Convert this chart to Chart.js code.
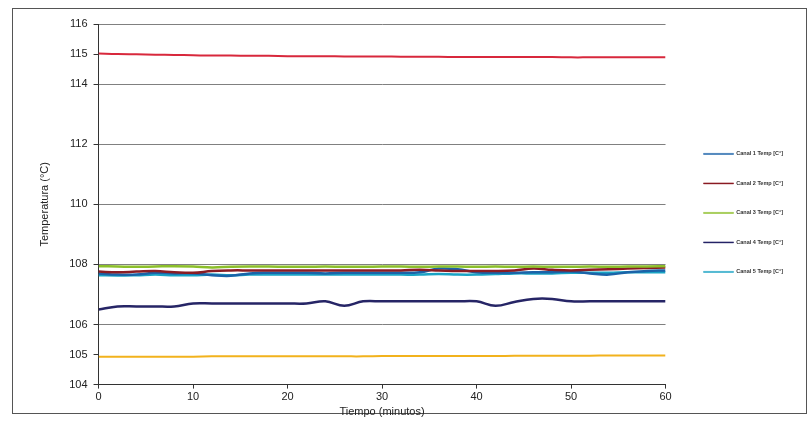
<!DOCTYPE html>
<html lang="es">
<head>
    <meta charset="UTF-8">
    <title>Temperatura por canal</title>
    <script src="https://cdn.jsdelivr.net/npm/chart.js"></script>
    <style>
        html, body { margin: 0; padding: 0; background: #fff; }
        .chart-box { position: relative; width: 809px; height: 421px; }
    </style>
</head>
<body>
    <div class="chart-box">
        <canvas id="graficoTemp"></canvas>
    </div>

    <script>
        // tiempo en minutos
        const tiempo = [0, 2, 4, 6, 8, 10, 12, 14, 16, 18, 20, 22, 24, 26, 28, 30,
                        32, 34, 36, 38, 40, 42, 44, 46, 48, 50, 52, 54, 56, 58, 60];

        const canal1 = [107.70, 107.66, 107.66, 107.72, 107.70, 107.70, 107.64, 107.62, 107.70, 107.72, 107.72, 107.72, 107.70, 107.72, 107.72, 107.72,
                        107.72, 107.74, 107.86, 107.84, 107.74, 107.72, 107.72, 107.74, 107.74, 107.76, 107.70, 107.66, 107.74, 107.78, 107.80];
        const canal2 = [107.76, 107.74, 107.76, 107.78, 107.74, 107.72, 107.78, 107.80, 107.80, 107.80, 107.80, 107.80, 107.80, 107.80, 107.80, 107.80,
                        107.80, 107.82, 107.80, 107.78, 107.78, 107.78, 107.80, 107.86, 107.82, 107.80, 107.82, 107.84, 107.86, 107.88, 107.90];
        const canal3 = [107.94, 107.93, 107.92, 107.93, 107.94, 107.93, 107.90, 107.92, 107.93, 107.93, 107.92, 107.92, 107.93, 107.92, 107.92, 107.93,
                        107.93, 107.92, 107.93, 107.93, 107.92, 107.93, 107.92, 107.93, 107.92, 107.92, 107.93, 107.92, 107.93, 107.93, 107.94];
        const canal4 = [106.50, 106.60, 106.60, 106.60, 106.60, 106.70, 106.70, 106.70, 106.70, 106.70, 106.70, 106.70, 106.77, 106.62, 106.77, 106.77,
                        106.77, 106.77, 106.77, 106.77, 106.77, 106.62, 106.75, 106.85, 106.85, 106.77, 106.77, 106.77, 106.77, 106.77, 106.77];
        const canal5 = [107.64, 107.63, 107.64, 107.66, 107.64, 107.64, 107.66, 107.64, 107.66, 107.66, 107.66, 107.66, 107.66, 107.66, 107.66, 107.66,
                        107.66, 107.66, 107.68, 107.66, 107.66, 107.68, 107.70, 107.70, 107.70, 107.72, 107.72, 107.72, 107.74, 107.74, 107.74];

        // lineas limite (no aparecen en la leyenda)
        const limiteSup = [115.02, 115.0, 114.99, 114.98, 114.97, 114.96, 114.95, 114.95, 114.94, 114.94, 114.93, 114.93, 114.93, 114.92, 114.92, 114.92,
                           114.91, 114.91, 114.91, 114.90, 114.90, 114.90, 114.90, 114.90, 114.90, 114.89, 114.89, 114.89, 114.89, 114.89, 114.89];
        const limiteInf = [104.93, 104.93, 104.93, 104.93, 104.93, 104.93, 104.94, 104.94, 104.94, 104.94, 104.94, 104.94, 104.94, 104.94, 104.94, 104.95,
                           104.95, 104.95, 104.95, 104.95, 104.95, 104.95, 104.96, 104.96, 104.96, 104.96, 104.96, 104.97, 104.97, 104.97, 104.97];

        const ticksY = [104, 105, 106, 108, 110, 112, 114, 115, 116];
        const ticksX = [0, 10, 20, 30, 40, 50, 60];

        function serie(valores) {
            return tiempo.map((t, i) => ({ x: t, y: valores[i] }));
        }

        function linea(nombre, valores, color, ancho) {
            return {
                label: nombre,
                data: serie(valores),
                borderColor: color,
                backgroundColor: color,
                borderWidth: ancho,
                pointRadius: 0,
                tension: 0.4,
                fill: false
            };
        }

        const marco = {
            id: 'marco',
            beforeDraw(chart) {
                const c = chart.ctx;
                c.save();
                c.fillStyle = '#fff';
                c.fillRect(0, 0, chart.width, chart.height);
                c.strokeStyle = '#555';
                c.lineWidth = 1;
                c.strokeRect(12.5, 8.5, 794, 405);
                c.restore();
            }
        };

        const ctx = document.getElementById('graficoTemp').getContext('2d');
        new Chart(ctx, {
            type: 'line',
            data: {
                datasets: [
                    linea('Limite sup', limiteSup, '#d8283c', 2),
                    linea('Limite inf', limiteInf, '#f2b21c', 2),
                    linea('Canal 3 Temp [C°]', canal3, '#8cbf2a', 2.5),
                    linea('Canal 2 Temp [C°]', canal2, '#8a1c24', 2.5),
                    linea('Canal 1 Temp [C°]', canal1, '#1b63a8', 2.5),
                    linea('Canal 5 Temp [C°]', canal5, '#1aa3c4', 2.5),
                    linea('Canal 4 Temp [C°]', canal4, '#262566', 2.5)
                ]
            },
            options: {
                responsive: true,
                maintainAspectRatio: false,
                animation: false,
                layout: { padding: { left: 38, top: 24, right: 16, bottom: 2 } },
                scales: {
                    x: {
                        type: 'linear',
                        min: 0,
                        max: 60,
                        afterBuildTicks: axis => { axis.ticks = ticksX.map(v => ({ value: v })); },
                        grid: { display: true, drawOnChartArea: false, color: '#333', tickLength: 4 },
                        border: { color: '#333', width: 1 },
                        ticks: { color: '#222', font: { family: 'Liberation Sans', size: 11 }, padding: 2, maxRotation: 0 },
                        title: {
                            display: true,
                            text: 'Tiempo (minutos)',
                            color: '#222',
                            font: { family: 'Liberation Sans', size: 11 },
                            padding: { top: 0, bottom: 0 }
                        }
                    },
                    y: {
                        min: 104,
                        max: 116,
                        afterBuildTicks: axis => { axis.ticks = ticksY.map(v => ({ value: v })); },
                        grid: {
                            color: c => (c.tick && (c.tick.value === 105 || c.tick.value === 115)) ? 'rgba(0,0,0,0)' : '#808080',
                            tickColor: '#333',
                            tickLength: 5
                        },
                        border: { color: '#333', width: 1 },
                        ticks: { color: '#222', font: { family: 'Liberation Sans', size: 11 }, padding: 6 },
                        title: {
                            display: true,
                            text: 'Temperatura (°C)',
                            color: '#222',
                            font: { family: 'Liberation Sans', size: 11 },
                            padding: { top: 0, bottom: 12 }
                        }
                    },
                    // espacio vacio entre el grafico y la leyenda
                    hueco: {
                        type: 'linear',
                        position: 'right',
                        min: 0,
                        max: 1,
                        grid: { drawOnChartArea: false, drawTicks: false },
                        border: { display: false },
                        ticks: { display: false },
                        afterFit: s => { s.width = 14; }
                    }
                },
                plugins: {
                    tooltip: { enabled: false },
                    legend: {
                        position: 'right',
                        align: 'center',
                        fullSize: false,
                        title: { display: true, text: ' ', font: { size: 1 }, padding: 8 },
                        labels: {
                            generateLabels: chart => Chart.defaults.plugins.legend.labels.generateLabels(chart)
                                .map(l => Object.assign(l, { lineWidth: 0.5 })),
                            filter: item => item.text.indexOf('Canal') === 0,
                            sort: (a, b) => a.text.localeCompare(b.text),
                            color: '#333',
                            font: { family: 'Liberation Sans', size: 5.5, weight: 'bold' },
                            boxWidth: 30,
                            boxHeight: 1,
                            padding: 24
                        }
                    }
                }
            },
            plugins: [marco]
        });
    </script>
</body>
</html>
